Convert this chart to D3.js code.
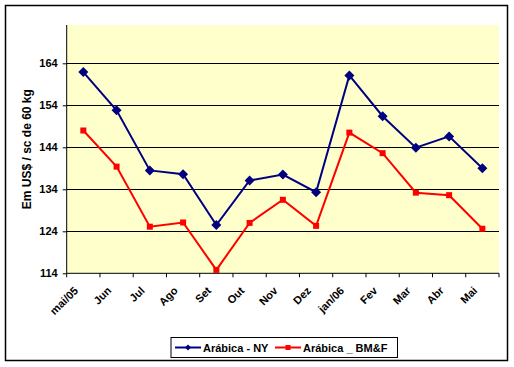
<!DOCTYPE html>
<html><head><meta charset="utf-8">
<script src="https://cdn.jsdelivr.net/npm/d3@7"></script>
<style>body{margin:0;background:#fff}svg{display:block}</style>
</head><body><svg id="c" width="514" height="367"></svg>
<script>
const categories = ["mai/05","Jun","Jul","Ago","Set","Out","Nov","Dez","jan/06","Fev","Mar","Abr","Mai"];
const nyValues = [161.9,152.8,138.5,137.6,125.5,136.1,137.5,133.3,161.1,151.4,143.9,146.6,139.0];
const bmfValues = [148.0,139.4,125.1,126.1,114.8,126.0,131.5,125.3,147.5,142.6,133.2,132.6,124.6];
const yTicks = [114,124,134,144,154,164];
const seriesNames = ["Arábica - NY","Arábica _ BM&F"];
const yTitle = "Em US$ / sc de 60 kg";

const svg = d3.select("#c");
const font = "'Liberation Sans', Arial, sans-serif";
const L = 66.7, R = 499, T = 25, B = 273.3;

svg.append("rect").attr("x",5.5).attr("y",5.5).attr("width",502).attr("height",355)
  .attr("fill","#fff").attr("stroke","#000").attr("stroke-width",1.5);

const x = d3.scaleBand().domain(categories).range([L,R]).padding(0);
const y = d3.scaleLinear().domain([114, 114 + (B-T)/4.2]).range([B,T]);

svg.append("rect").attr("x",L).attr("y",T).attr("width",R-L).attr("height",B-T).attr("fill","#FFFFCC");

// gridlines
svg.append("g").selectAll("line").data(yTicks.filter(d=>d>114)).join("line")
  .attr("x1",L).attr("x2",R).attr("y1",d=>Math.round(y(d))+0.5).attr("y2",d=>Math.round(y(d))+0.5)
  .attr("stroke","#000").attr("stroke-width",1);

// y axis
const ya = svg.append("g").attr("transform",`translate(${L},0)`)
  .call(d3.axisLeft(y).tickValues(yTicks).tickSize(4).tickPadding(5).tickFormat(d3.format("d")));
ya.select(".domain").attr("stroke","#000").attr("d",`M0,${T}V${B}`);
ya.selectAll("text").attr("font-family",font).attr("font-weight","bold").attr("font-size",11).attr("fill","#000");

// x axis
const boundaries = d3.range(categories.length+1).map(i=>L + i*x.bandwidth());
const xa = svg.append("g");
xa.append("line").attr("x1",L).attr("x2",R).attr("y1",B).attr("y2",B).attr("stroke","#000");
xa.selectAll(".tk").data(boundaries).join("line").attr("class","tk")
  .attr("x1",d=>d).attr("x2",d=>d).attr("y1",B).attr("y2",B+4).attr("stroke","#000");
xa.selectAll("text").data(categories).join("text")
  .attr("transform",d=>`translate(${x(d)+x.bandwidth()/2-4.5},${B+18}) rotate(-45)`)
  .attr("text-anchor","end").attr("font-family",font).attr("font-weight","bold")
  .attr("font-size",11).text(d=>d);

// y title
svg.append("text").attr("transform",`translate(31,${(T+B)/2}) rotate(-90)`)
  .attr("text-anchor","middle").attr("font-family",font).attr("font-weight","bold")
  .attr("font-size",12).text(yTitle);

const cx = (d,i)=>x(categories[i])+x.bandwidth()/2;
const line = d3.line().x(cx).y(d=>y(d));

// BM&F
svg.append("path").datum(bmfValues).attr("d",line).attr("fill","none").attr("stroke","#FF0000").attr("stroke-width",2);
svg.append("g").selectAll("rect").data(bmfValues).join("rect")
  .attr("x",(d,i)=>cx(d,i)-3).attr("y",d=>y(d)-3).attr("width",6).attr("height",6).attr("fill","#FF0000");

// NY
svg.append("path").datum(nyValues).attr("d",line).attr("fill","none").attr("stroke","#000080").attr("stroke-width",2);
svg.append("g").selectAll("path").data(nyValues).join("path")
  .attr("transform",(d,i)=>`translate(${cx(d,i)},${y(d)}) rotate(45)`)
  .attr("d",d3.symbol().type(d3.symbolSquare).size(50)).attr("fill","#000080");

// legend
const lg = svg.append("g");
lg.append("rect").attr("x",171).attr("y",337.5).attr("width",226.5).attr("height",20).attr("fill","#fff").attr("stroke","#000");
lg.append("line").attr("x1",175).attr("x2",201).attr("y1",347.5).attr("y2",347.5).attr("stroke","#000080").attr("stroke-width",2);
lg.append("path").attr("transform","translate(188,347.5) rotate(45)").attr("d",d3.symbol().type(d3.symbolSquare).size(18)).attr("fill","#000080");
lg.append("text").attr("x",203).attr("y",351.5).attr("font-family",font).attr("font-weight","bold").attr("font-size",11).text(seriesNames[0]);
lg.append("line").attr("x1",275).attr("x2",301).attr("y1",347.5).attr("y2",347.5).attr("stroke","#FF0000").attr("stroke-width",2);
lg.append("rect").attr("x",285.5).attr("y",345).attr("width",5).attr("height",5).attr("fill","#FF0000");
lg.append("text").attr("x",303).attr("y",351.5).attr("font-family",font).attr("font-weight","bold").attr("font-size",11).text(seriesNames[1]);
</script></body></html>
